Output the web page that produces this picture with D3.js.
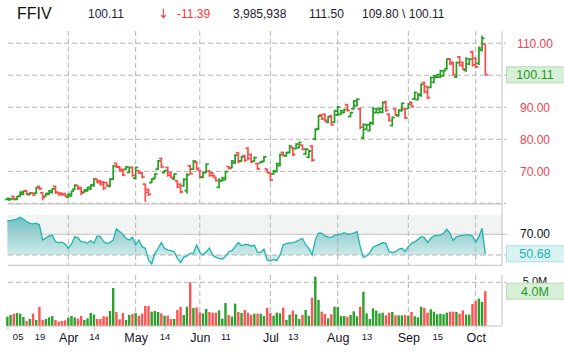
<!DOCTYPE html>
<html>
<head>
<meta charset="utf-8">
<script src="https://cdn.jsdelivr.net/npm/d3@7"></script>
<style>
  body { margin: 0; background: #fff; }
  svg { font-family: "Liberation Sans", Arial, sans-serif; display: block; }
</style>
</head>
<body>
<div id="chart"></div>
<script>
// FFIV daily bars, 5 Mar - 6 Oct 2010
const opens = [61.2,61.1,62.2,61.3,62.3,62.9,64.0,62.7,63.2,63.2,
  65.3,63.3,62.3,62.8,63.4,65.3,63.4,63.2,63.0,61.9,
  62.3,64.4,65.5,64.9,63.5,63.9,64.4,65.5,67.5,67.0,
  66.6,66.5,65.3,67.6,72.5,71.5,70.6,70.6,69.7,71.2,
  67.9,70.2,69.6,66.0,64.3,66.5,67.8,70.7,74.0,69.6,
  71.2,69.6,67.6,67.0,65.9,65.5,64.0,71.7,70.7,72.9,
  70.3,68.1,69.7,70.1,69.5,68.1,65.0,67.0,67.4,71.5,
  71.2,72.6,75.8,73.3,74.9,77.2,75.3,73.2,72.4,72.6,
  73.1,70.7,69.4,69.1,69.9,71.8,75.9,74.8,75.9,77.4,
  77.1,77.4,78.2,75.4,74.4,77.9,80.1,83.3,87.6,87.8,
  85.3,87.3,85.4,87.6,87.8,88.3,90.8,87.1,89.5,90.5,
  89.5,80.5,83.1,82.7,84.9,88.3,88.3,88.5,91.7,87.8,
  84.3,89.4,87.3,88.9,89.4,89.6,91.6,92.6,92.4,93.7,
  97.7,96.4,96.2,97.8,99.3,99.4,99.8,102.0,105.1,104.0,
  99.5,105.7,104.0,101.5,103.5,107.3,105.3,103.7,107.8,109.7];
const highs = [61.8,61.6,62.4,62.3,63.8,64.0,64.2,63.5,63.4,65.2,
  65.5,63.6,63.3,64.2,64.7,65.6,63.6,63.4,63.3,63.1,
  64.0,66.0,65.7,65.2,64.4,65.2,66.0,67.9,67.7,67.3,
  67.0,66.7,67.8,72.0,72.7,71.7,70.9,71.7,71.5,71.5,
  71.5,70.4,69.9,66.3,64.6,67.8,69.4,73.5,74.3,70.4,
  71.5,69.9,69.4,67.3,66.3,67.8,69.4,72.0,73.5,73.2,
  70.6,69.9,72.5,70.4,69.7,68.3,67.8,68.3,70.2,71.7,
  73.5,75.4,76.1,74.8,75.1,77.5,75.6,74.6,72.7,73.2,
  74.8,70.9,69.7,70.4,72.7,75.6,76.1,76.1,78.2,77.7,
  78.8,79.3,78.4,77.2,76.7,78.2,83.4,87.6,87.8,88.1,
  87.3,87.6,89.2,90.4,89.2,89.6,91.0,88.6,92.3,92.8,
  89.9,85.0,84.8,85.5,90.0,89.7,89.9,91.8,92.0,88.1,
  87.1,89.7,89.4,91.5,89.7,91.3,91.8,94.9,94.4,97.5,
  98.0,96.7,99.6,100.1,100.4,101.7,101.7,105.3,105.3,104.3,
  104.3,106.0,104.3,105.6,105.3,107.7,105.6,109.0,112.3,109.8];
const lows = [61.0,61.0,60.9,61.0,62.1,62.6,62.6,62.5,62.4,62.9,
  64.2,61.0,62.1,62.6,63.1,62.9,62.4,62.4,62.1,61.6,
  62.1,64.2,64.2,62.5,63.3,63.6,64.2,65.2,66.25,65.6,
  64.2,65.2,65.0,67.3,71.0,69.9,68.5,70.4,69.4,68.3,
  67.5,69.2,67.8,60.5,62.3,66.25,67.6,70.4,71.0,69.4,
  68.3,67.8,67.3,64.7,63.1,65.2,63.1,68.9,70.4,70.4,
  67.8,67.8,69.4,68.3,68.3,66.8,64.7,66.8,67.1,70.6,
  70.9,72.3,72.5,73.0,73.0,73.5,72.5,73.0,70.4,72.5,
  72.9,69.4,66.8,68.9,69.6,71.5,74.6,74.6,75.6,74.8,
  76.9,77.2,76.5,75.1,74.1,73.0,79.8,82.9,86.0,85.5,
  85.0,84.2,85.0,87.3,87.6,88.1,88.6,86.9,89.2,90.2,
  83.1,80.0,82.9,82.4,84.5,88.1,88.1,88.1,88.6,85.5,
  84.0,87.3,87.1,88.6,86.3,89.4,90.0,92.3,92.1,93.3,
  94.4,92.6,95.9,97.5,99.1,99.1,99.6,101.7,103.2,99.8,
  99.1,102.7,101.7,101.1,103.2,102.7,102.2,103.2,107.4,100.11];
const closes = [61.6,61.4,61.2,62.1,63.5,63.8,63.0,63.3,62.6,64.9,
  64.5,61.8,63.1,63.9,64.5,63.4,62.8,62.7,62.4,62.9,
  63.8,65.7,64.6,63.2,64.2,65.0,65.8,67.6,66.5,65.9,
  64.8,65.6,67.5,71.6,71.3,70.2,68.9,71.4,71.2,68.7,
  71.2,69.4,68.2,63.4,62.8,67.5,69.1,73.2,71.4,70.2,
  68.8,68.1,69.1,65.1,63.6,67.5,68.9,69.3,73.2,70.9,
  68.3,69.6,72.2,68.7,68.6,67.1,67.2,68.0,69.9,70.8,
  73.2,75.0,73.0,74.5,73.4,74.0,73.0,74.3,70.8,73.0,
  74.5,69.7,67.3,70.1,72.4,75.2,74.9,75.8,77.9,75.2,
  78.5,79.0,76.9,76.9,76.3,73.5,83.0,87.2,86.4,85.9,
  87.0,84.6,88.8,90.0,88.9,89.3,89.0,88.3,92.0,92.5,
  83.8,84.6,84.5,85.2,89.6,89.4,89.6,91.4,89.0,85.9,
  86.8,87.6,89.1,91.2,86.7,91.0,90.3,94.6,94.1,97.1,
  94.8,93.0,99.2,99.8,100.2,101.4,101.4,105.0,103.5,100.2,
  103.9,103.1,102.0,105.2,105.0,103.2,102.6,108.5,111.5,100.11];
// volume in millions
const volumes = [1.07,1.26,1.41,1.49,1.41,1.03,0.57,0.80,1.41,0.69,
  2.18,0.69,0.80,0.99,1.15,0.69,0.50,0.57,0.65,0.92,
  1.15,0.99,0.84,1.15,0.69,0.88,1.49,1.30,0.80,0.80,
  1.11,1.07,1.72,4.35,1.60,0.76,1.49,0.69,1.26,1.37,
  1.49,1.18,1.41,2.29,2.29,1.64,1.72,1.60,1.45,1.18,
  1.18,0.80,0.80,1.83,2.20,1.26,2.20,5.00,2.06,2.14,
  1.56,1.45,1.95,1.60,1.53,1.53,1.79,0.84,2.63,1.26,
  1.07,2.56,1.60,1.49,1.83,1.53,1.26,1.41,1.41,1.41,
  1.15,2.06,1.49,1.18,1.53,1.45,2.10,0.69,1.30,1.76,
  1.34,0.80,1.26,1.83,1.18,3.24,5.65,2.98,1.64,1.37,
  0.88,1.34,2.21,2.18,1.15,1.15,1.07,1.26,1.68,1.11,
  2.21,3.93,1.45,0.80,2.02,1.76,1.45,1.53,1.22,1.53,
  1.60,1.22,1.22,1.22,1.26,1.18,1.60,1.11,0.99,2.21,
  2.06,1.53,1.91,1.64,1.34,1.41,1.34,1.53,1.64,1.64,
  1.60,1.41,1.79,1.30,1.30,2.52,2.86,3.13,2.75,3.985938];
const rsi = [83.2,83.2,83.9,84.5,86.5,84.5,82.3,80.6,80.0,80.6,
  79.0,64.5,66.5,68.4,69.0,62.9,62.0,62.3,60.6,56.5,
  60.6,67.7,66.5,62.9,62.6,61.3,63.9,61.3,68.4,67.7,
  62.9,61.3,62.0,64.5,75.2,72.6,70.0,66.1,64.5,67.0,
  59.7,64.5,58.0,56.5,45.2,41.3,51.6,56.5,62.0,56.5,
  54.8,54.2,53.2,46.8,42.6,47.7,49.0,51.6,51.6,59.7,
  52.3,50.0,53.2,56.5,50.0,47.7,46.8,46.1,48.4,53.2,
  54.2,58.0,62.0,59.0,60.0,60.3,58.7,59.4,52.6,52.6,
  55.5,45.2,44.2,45.8,44.5,50.0,59.7,61.0,61.6,62.0,
  62.9,64.5,66.1,59.7,56.5,50.0,64.5,71.0,71.0,68.4,
  67.4,67.0,69.0,69.7,70.0,71.6,70.0,70.3,71.0,72.6,
  58.0,47.7,49.0,52.3,57.4,59.0,60.3,62.0,61.3,53.2,
  52.3,53.2,55.5,56.5,53.2,58.0,61.3,62.6,65.2,67.7,
  66.8,62.0,66.1,68.4,69.0,69.4,71.0,74.8,71.0,63.9,
  67.7,68.4,69.0,69.4,69.4,68.4,62.6,67.7,75.8,50.68];

const tickIdx = [0,10,19,27,40,49,60,68,82,89,103,112,125,134,146];
const tickLabels = ["05","19","Apr","14","May","14","Jun","11","Jul","13","Aug","13","Sep","15","Oct"];
const monthIdx = [19,40,60,82,103,125,146];
const priceGrid = [60,70,80,90,100,110];
const priceLabels = [70,80,90,100,110];
const header = {symbol:"FFIV", last:"100.11", change:"-11.39", volume:"3,985,938", prev:"111.50", hiLo:"109.80 \\ 100.11"};

const W = 564, H = 352;
const left = 8, right = 502;
const green = "#23a023", red = "#ff4a4a", grid = "#b3b3b3", frame = "#c2c2c2";

const svg = d3.select("#chart").append("svg")
  .attr("width", W).attr("height", H).attr("viewBox", [0, 0, W, H]);

const n = closes.length;
const x = d3.scaleLinear().domain([0, n - 1]).range([7.35, 485.3]);
const yP = d3.scaleLinear().domain([59.8, 113.8]).range([204, 31]);
const yR = d3.scaleLinear().domain([40.05, 88.6]).range([265.3, 215]);
const yV = d3.scaleLinear().domain([0, 5]).range([326, 282.3]);
const up = i => closes[i] >= opens[i];

// header
const hd = svg.append("g").attr("font-size", 12).attr("fill", "#1b1b2b");
hd.append("text").attr("x", 17).attr("y", 18.5).attr("font-size", 16).attr("fill", "#111").text(header.symbol);
hd.append("text").attr("x", 88).attr("y", 17.5).attr("fill", "#1b1b48").text(header.last);
hd.append("text").attr("x", 158).attr("y", 17.5).attr("fill", "#f33")
  .attr("font-family", "DejaVu Sans").attr("font-size", 13).text("\u2193");
hd.append("text").attr("x", 177).attr("y", 17.5).attr("fill", "#f33").text(header.change);
hd.append("text").attr("x", 233).attr("y", 17.5).text(header.volume);
hd.append("text").attr("x", 309).attr("y", 17.5).text(header.prev);
hd.append("text").attr("x", 362).attr("y", 17.5).text(header.hiLo);

function vGrid(y0, y1) {
  svg.append("g").attr("stroke", grid).attr("stroke-dasharray", "5,3")
    .selectAll("line").data(monthIdx).join("line")
    .attr("x1", d => x(d)).attr("x2", d => x(d))
    .attr("y1", y0).attr("y2", y1);
}

// ---------- price panel ----------
svg.append("g").attr("stroke", grid).attr("stroke-dasharray", "5,3")
  .selectAll("line").data(priceGrid).join("line")
  .attr("x1", left).attr("x2", 506)
  .attr("y1", d => yP(d)).attr("y2", d => yP(d));
vGrid(31, 204);

svg.append("g")
  .attr("transform", `translate(${right},0)`)
  .call(d3.axisRight(yP).tickValues(priceLabels).tickFormat(d3.format(".2f")).tickSize(0))
  .call(g => g.select(".domain").remove())
  .call(g => g.selectAll("text").attr("x", 33).attr("text-anchor", "middle")
    .attr("fill", "#f2404f").attr("font-size", 12).attr("font-family", null));

svg.append("g")
  .selectAll("path").data(d3.range(n)).join("path")
  .attr("fill", "none")
  .attr("stroke", i => up(i) ? green : red)
  .attr("stroke-width", 1.7)
  .attr("d", i => `M${x(i)},${yP(highs[i])}V${yP(lows[i])}` +
    `M${x(i) - 2.6},${yP(opens[i])}H${x(i)}M${x(i)},${yP(closes[i])}H${x(i) + 2.6}`);

// ---------- RSI panel ----------
svg.append("rect").attr("x", left).attr("y", 215).attr("width", right - left)
  .attr("height", yR(70) - 215).attr("fill", "#f2f3f3");

const grad = svg.append("defs").append("linearGradient").attr("id", "rsiFill")
  .attr("gradientUnits", "userSpaceOnUse").attr("x1", 0).attr("x2", 0).attr("y1", 215).attr("y2", 256);
grad.append("stop").attr("offset", 0).attr("stop-color", "#6fbfbf");
grad.append("stop").attr("offset", 1).attr("stop-color", "#cfeaea");

svg.append("path").datum(rsi)
  .attr("fill", "url(#rsiFill)")
  .attr("d", d3.area().x((d, i) => x(i)).y0(yR(50)).y1(d => yR(d)));

svg.append("line").attr("x1", left).attr("x2", 506).attr("y1", yR(50)).attr("y2", yR(50))
  .attr("stroke", grid).attr("stroke-dasharray", "5,3");
svg.append("line").attr("x1", left).attr("x2", 507).attr("y1", yR(70)).attr("y2", yR(70))
  .attr("stroke", frame);
vGrid(215, 265);

svg.append("path").datum(rsi)
  .attr("fill", "none").attr("stroke", "#1fb3b0").attr("stroke-width", 1.3)
  .attr("d", d3.line().x((d, i) => x(i)).y(d => yR(d)));

svg.append("line").attr("x1", left).attr("x2", right).attr("y1", 265.3).attr("y2", 265.3).attr("stroke", frame);
svg.append("text").attr("x", 535).attr("y", yR(70)).attr("dy", "0.35em")
  .attr("text-anchor", "middle").attr("font-size", 12).attr("fill", "#111").text("70.00");

// ---------- volume panel ----------
svg.append("line").attr("x1", left).attr("x2", 506).attr("y1", yV(5)).attr("y2", yV(5))
  .attr("stroke", grid).attr("stroke-dasharray", "5,3");
vGrid(275, 326);
svg.append("text").attr("x", 535).attr("y", yV(5)).attr("dy", "0.2em")
  .attr("text-anchor", "middle").attr("font-size", 11).attr("fill", "#111").text("5.0M");

svg.append("g")
  .selectAll("rect").data(d3.range(n)).join("rect")
  .attr("x", i => x(i) - 1.2).attr("width", 2.4)
  .attr("y", i => yV(volumes[i])).attr("height", i => yV(0) - yV(volumes[i]))
  .attr("fill", i => up(i) ? "#2ca02c" : "#ff5252");

// frames
svg.append("line").attr("x1", left).attr("x2", right).attr("y1", 204).attr("y2", 204).attr("stroke", frame);
svg.append("line").attr("x1", right).attr("x2", right).attr("y1", 31).attr("y2", 265.3).attr("stroke", frame);
svg.append("line").attr("x1", right).attr("x2", right).attr("y1", 275).attr("y2", 326).attr("stroke", frame);

// x axis
svg.append("g")
  .attr("transform", "translate(0,326)")
  .call(d3.axisBottom(x).tickValues(tickIdx).tickFormat((d, i) => tickLabels[i]).tickSize(4))
  .call(g => g.select(".domain").attr("d", `M${left},0H${right}`).attr("stroke", frame))
  .call(g => g.selectAll(".tick line").attr("stroke", frame))
  .call(g => g.selectAll(".tick text")
    .attr("font-family", null)
    .attr("fill", "#141428")
    .attr("font-size", (d, i) => tickLabels[i].length > 2 ? 12.5 : 9.5)
    .attr("text-anchor", (d, i) => i === 0 ? "start" : "middle")
    .attr("dx", (d, i) => i === 0 ? 5 : 0));

// value boxes
function valueBox(y, txt, fill, stroke, color) {
  svg.append("rect").attr("x", 506.5).attr("y", y - 8).attr("width", 60).attr("height", 16)
    .attr("fill", fill).attr("stroke", stroke);
  svg.append("text").attr("x", 535).attr("y", y).attr("dy", "0.36em")
    .attr("text-anchor", "middle").attr("font-size", 12.5).attr("fill", color).text(txt);
}
valueBox(yP(closes[n - 1]), d3.format(".2f")(closes[n - 1]), "#d7efd7", "#b3ddb3", "#1f9a1f");
valueBox(yR(rsi[n - 1]) - 0.5, d3.format(".2f")(rsi[n - 1]), "#d9f3f3", "#a6e1e1", "#22b2b2");
valueBox(yV(volumes[n - 1]), d3.format(".1f")(volumes[n - 1]) + "M", "#d7efd7", "#b3ddb3", "#1f9a1f");
</script>
</body>
</html>
